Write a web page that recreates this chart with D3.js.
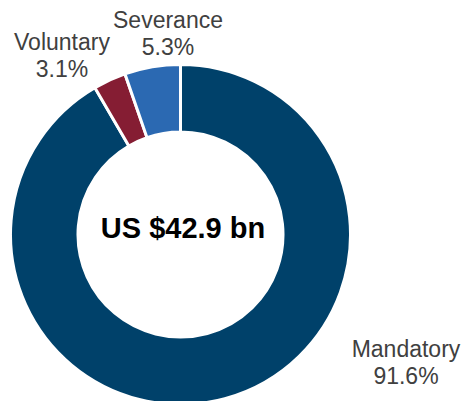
<!DOCTYPE html>
<html>
<head>
<meta charset="utf-8">
<script src="https://cdn.jsdelivr.net/npm/d3@7"></script>
<style>
  html, body { margin: 0; padding: 0; background: #fff; }
  svg { display: block; }
</style>
</head>
<body>
<div id="chart"></div>
<script>
// data
const categories = ["Mandatory", "Voluntary", "Severance"];
const shares = [91.6, 3.1, 5.3];
const totalLabel = "US $42.9 bn";

const colors = {
  Mandatory: "#00416a",
  Voluntary: "#851d33",
  Severance: "#2b69b2"
};

// where each label sits (centre x, first baseline y)
const labelSpots = {
  Mandatory: [406, 357],
  Voluntary: [62, 50],
  Severance: [168, 28]
};

const width = 466, height = 401;
const cx = 180.5, cy = 234.5;
const outerR = 170, innerR = 102.5;

const svg = d3.select("#chart")
  .append("svg")
  .attr("width", width)
  .attr("height", height);

const pie = d3.pie()
  .sort(null)
  .value(d => d.value);

const arc = d3.arc()
  .innerRadius(innerR)
  .outerRadius(outerR);

const slices = pie(categories.map((c, i) => ({ name: c, value: shares[i] })));

const g = svg.append("g").attr("transform", `translate(${cx},${cy})`);

g.selectAll("path")
  .data(slices)
  .join("path")
  .attr("d", arc)
  .attr("fill", d => colors[d.data.name])
  .attr("stroke", "#fff")
  .attr("stroke-width", 3)
  .attr("stroke-linejoin", "miter");

// centre total
svg.append("text")
  .attr("x", 183)
  .attr("y", 238)
  .attr("text-anchor", "middle")
  .attr("font-family", "Liberation Sans, Arial, sans-serif")
  .attr("font-weight", "bold")
  .attr("font-size", 29)
  .attr("fill", "#000")
  .text(totalLabel);

// category labels
const labels = svg.append("g")
  .attr("font-family", "Liberation Sans, Arial, sans-serif")
  .attr("font-size", 23)
  .attr("fill", "#404040")
  .attr("text-anchor", "middle");

slices.forEach(d => {
  const [x, y] = labelSpots[d.data.name];
  const t = labels.append("text").attr("x", x).attr("y", y);
  t.append("tspan").attr("x", x).text(d.data.name);
  t.append("tspan").attr("x", x).attr("dy", 27).text(d3.format(".1f")(d.data.value) + "%");
});
</script>
</body>
</html>
